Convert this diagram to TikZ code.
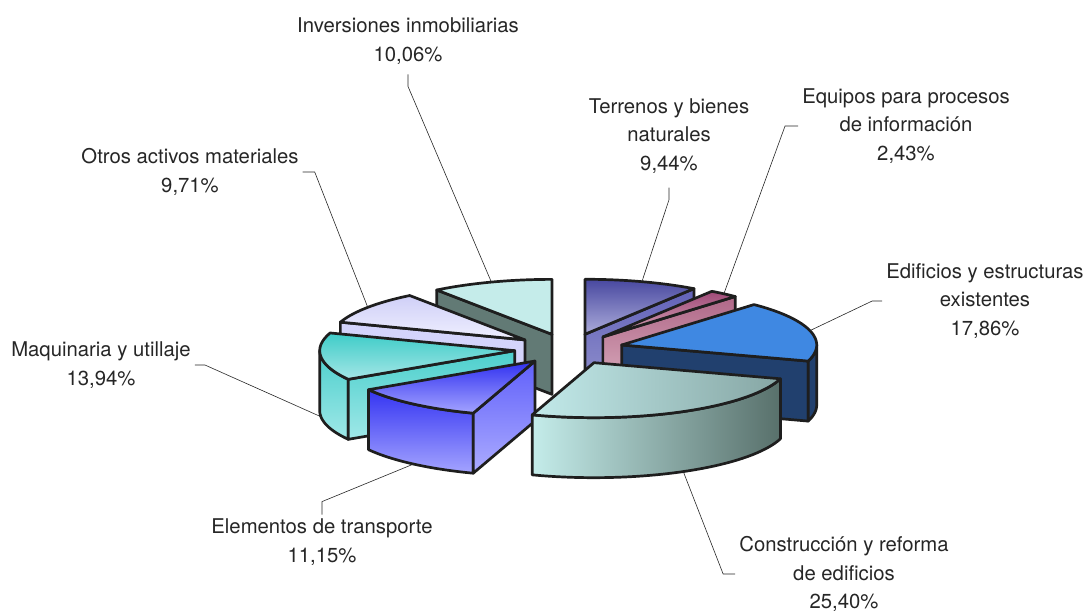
\documentclass[tikz,border=0pt]{standalone}
\usepackage{fontspec}
\setmainfont{TeX Gyre Heros}
\usepackage{tikz}
\usetikzlibrary{positioning,calc}

\definecolor{linegray}{HTML}{1E1E1E}
\definecolor{textgray}{HTML}{262626}
\definecolor{invtop}{HTML}{C5ECEA}
\definecolor{invside}{HTML}{627A75}
\definecolor{tertopA}{HTML}{4848A0}
\definecolor{tertopB}{HTML}{ACACDA}
\definecolor{tersideA}{HTML}{6262B8}
\definecolor{tersideB}{HTML}{9494CE}
\definecolor{otrtopA}{HTML}{CFCFF7}
\definecolor{otrtopB}{HTML}{F0F0FF}
\definecolor{otrside}{HTML}{D4D4FB}
\definecolor{equtopA}{HTML}{A04A78}
\definecolor{equtopB}{HTML}{D8A8B8}
\definecolor{equsideA}{HTML}{B06888}
\definecolor{equsideB}{HTML}{DDB2C2}
\definecolor{maqtopA}{HTML}{3ECCC8}
\definecolor{maqtopB}{HTML}{A4E6E6}
\definecolor{maqsideA}{HTML}{4CCFCC}
\definecolor{maqsideB}{HTML}{A0E8E8}
\definecolor{editop}{HTML}{3F88E2}
\definecolor{ediside}{HTML}{21406E}
\definecolor{eletopA}{HTML}{3030F0}
\definecolor{eletopB}{HTML}{A4A4FF}
\definecolor{elesideA}{HTML}{3434F2}
\definecolor{elecutA}{HTML}{6060FA}
\definecolor{elecutB}{HTML}{ACACFF}
\definecolor{contopA}{HTML}{C2EAEA}
\definecolor{contopB}{HTML}{86A6A4}
\definecolor{consideA}{HTML}{C4ECEA}
\definecolor{consideB}{HTML}{58706B}

\newcommand{\pcx}{569}
\newcommand{\pcy}{349}
\newcommand{\prx}{195}
\newcommand{\pry}{55}
\newcommand{\pdep}{60}
\newcommand{\pex}{0.28}

\newcommand{\apex}[4]{%
  \pgfmathsetmacro\sx{\pcx+\pex*\prx*cos((#1+#2)/2)}%
  \pgfmathsetmacro\sy{\pcy-\pex*\pry*sin((#1+#2)/2)}%
  \coordinate (#3) at ({\sx+\prx*cos((#1+#2)/2)},{\sy+#4-\pry*sin((#1+#2)/2)});}
\newcommand{\topface}[3]{%
  \draw[face,#3] (\sx,\sy) -- plot[domain=#1:#2,samples=40,variable=\t]
    ({\sx+\prx*cos(\t)},{\sy-\pry*sin(\t)}) -- cycle;}
\newcommand{\cutface}[2]{%
  \draw[face,#2] (\sx,\sy) -- ({\sx+\prx*cos(#1)},{\sy-\pry*sin(#1)})
    -- ++(0,\pdep) -- (\sx,{\sy+\pdep}) -- cycle;}
\newcommand{\rimface}[3]{%
  \draw[face,#3] plot[domain=#1:#2,samples=40,variable=\t]
    ({\sx+\prx*cos(\t)},{\sy-\pry*sin(\t)})
    -- plot[domain=#2:#1,samples=40,variable=\t]
    ({\sx+\prx*cos(\t)},{\sy+\pdep-\pry*sin(\t)}) -- cycle;}

\begin{document}
\begin{tikzpicture}[x=1pt,y=-1pt,
    face/.style={draw=linegray, line width=2.7pt, line join=round},
    lbl/.style={align=center, text=textgray, font=\fontsize{20.3}{28.6}\selectfont, inner sep=4pt},
    leader/.style={draw=textgray, line width=0.6pt}
    ]
    \useasboundingbox (0,0) rectangle (1088,612);

    \node[lbl] (inv) at (408,41)  {Inversiones inmobiliarias\\10,06\%};
    \node[lbl] (ter) at (669,136) {Terrenos y bienes\\naturales\\9,44\%};
    \node[lbl] (equ) at (906,126) {Equipos para procesos\\de información\\2,43\%};
    \node[lbl] (edi) at (985,301) {Edificios y estructuras\\existentes\\17,86\%};
    \node[lbl] (con) at (844,574) {Construcción y reforma\\de edificios\\25,40\%};
    \node[lbl] (ele) at (322,542) {Elementos de transporte\\11,15\%};
    \node[lbl] (maq) at (101,365) {Maquinaria y utillaje\\13,94\%};
    \node[lbl] (otr) at (190,172) {Otros activos materiales\\9,71\%};

    % back slices first
    \apex{90}{126.25}{inv-p}{0}
    \cutface{126.25}{fill=invside}
    \topface{90}{126.25}{fill=invtop}

    \apex{56.02}{90}{ter-p}{0}
    \cutface{56.02}{top color=tersideA, bottom color=tersideB}
    \topface{56.02}{90}{top color=tertopA, bottom color=tertopB}

    \apex{126.25}{161.21}{otr-p}{0}
    \cutface{161.21}{fill=otrside}
    \topface{126.25}{161.21}{top color=otrtopA, bottom color=otrtopB}

    \apex{47.27}{56.02}{equ-p}{0}
    \cutface{47.27}{top color=equsideA, bottom color=equsideB}
    \topface{47.27}{56.02}{top color=equtopA, bottom color=equtopB}

    \apex{161.21}{211.39}{maq-p}{\pdep}
    \rimface{180}{211.39}{top color=maqsideA, bottom color=maqsideB}
    \cutface{211.39}{top color=maqsideA, bottom color=maqsideB}
    \topface{161.21}{211.39}{top color=maqtopA, bottom color=maqtopB}

    \apex{-17.03}{47.27}{edi-p}{0}
    \cutface{-17.03}{fill=ediside}
    \rimface{-17.03}{0}{fill=ediside}
    \topface{-17.03}{47.27}{fill=editop}

    \apex{211.39}{251.53}{ele-p}{\pdep}
    \rimface{211.39}{251.53}{top color=elesideA, bottom color=eletopB}
    \cutface{251.53}{top color=elecutA, bottom color=elecutB}
    \topface{211.39}{251.53}{top color=eletopA, bottom color=eletopB}

    \apex{251.53}{342.97}{con-p}{\pdep}
    \rimface{251.53}{342.97}{left color=consideA, right color=consideB}
    \topface{251.53}{342.97}{left color=contopA, right color=contopB}

    \draw[leader] ([yshift=-6pt]inv.south) -- ++(0,12) -- (inv-p);
    \draw[leader] ([yshift=-10pt]ter.south) -- ++(0,12) -- (ter-p);
    \draw[leader] (equ.west) -- ++(-13,0) -- (equ-p);
    \draw[leader] (edi.west) -- ++(-10,0) -- (edi-p);
    \draw[leader] (con.west) -- ++(-12,0) -- (con-p);
    \draw[leader] (ele.north) -- ++(0,-13) -- (ele-p);
    \draw[leader] (maq.east) -- ++(10,0) -- (maq-p);
    \draw[leader] (otr.east) -- ++(12,0) -- (otr-p);
\end{tikzpicture}
\end{document}
